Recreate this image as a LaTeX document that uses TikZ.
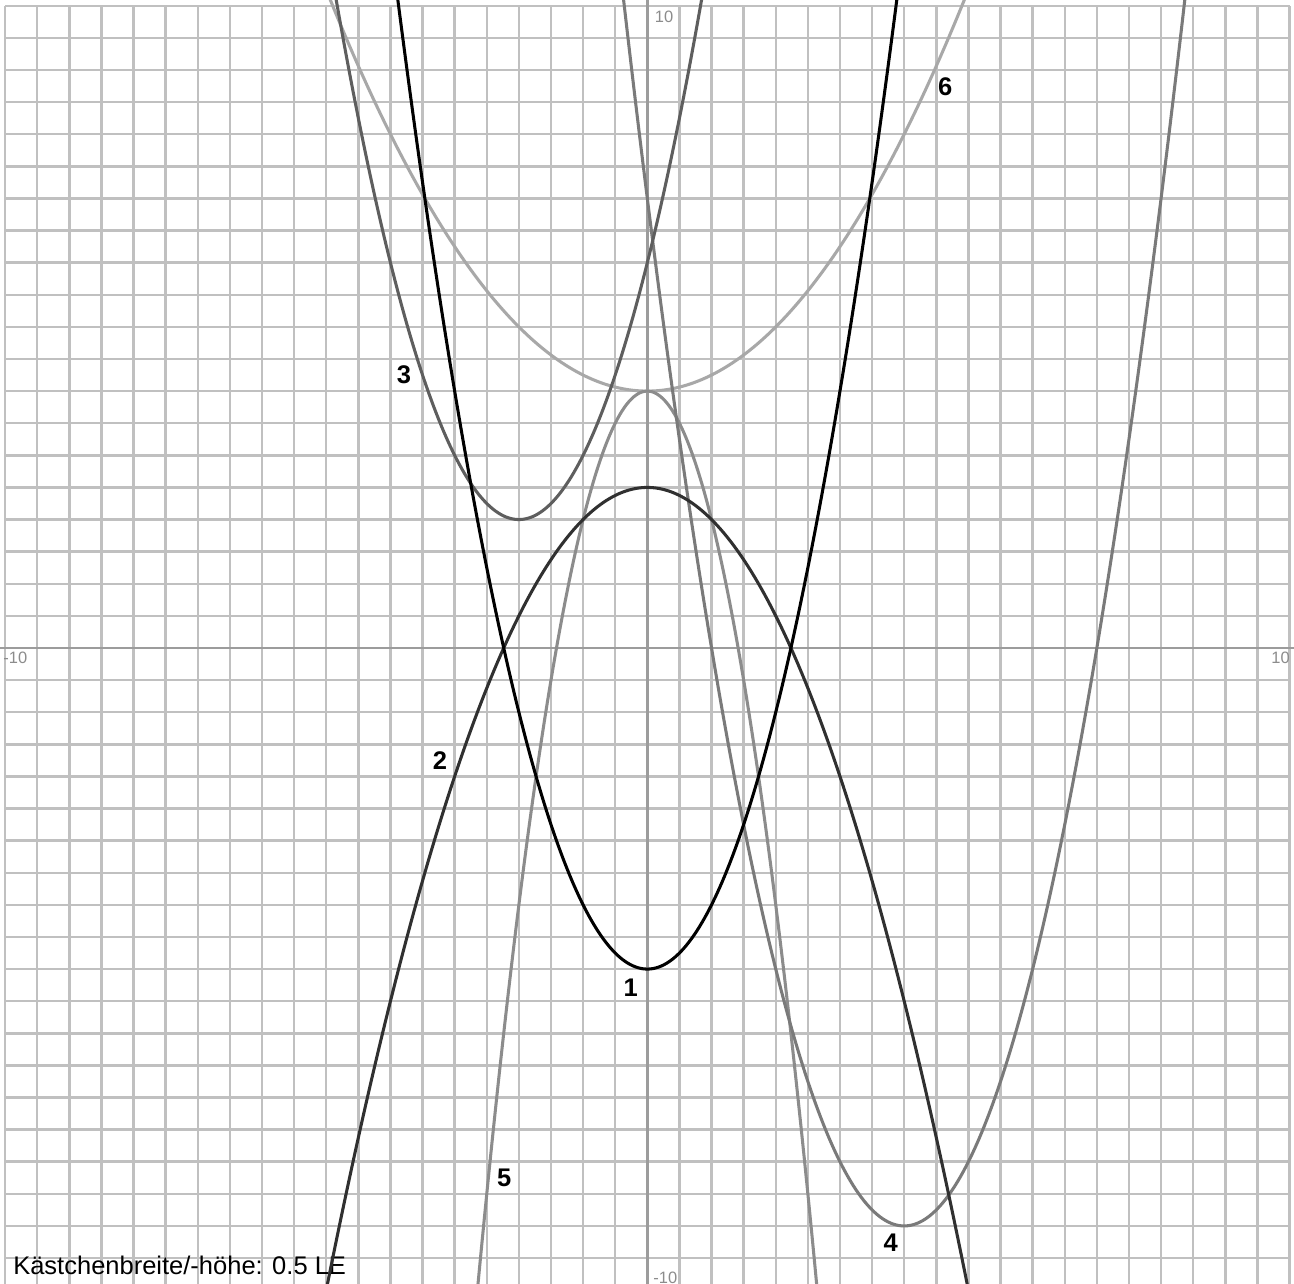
\documentclass[tikz,border=0pt]{standalone}
\usepackage{fontspec}
\setmainfont{Liberation Sans}
\definecolor{gitter}{HTML}{C0C0C0}
\definecolor{achse}{HTML}{9C9C9C}
\definecolor{kzwei}{HTML}{303030}
\definecolor{kdrei}{HTML}{5E5E5E}
\definecolor{kvier}{HTML}{7A7A7A}
\definecolor{kfuenf}{HTML}{8C8C8C}
\definecolor{ksechs}{HTML}{A8A8A8}
\tikzset{
  kurve/.style={line width=1.35pt, smooth, samples=200},
  nummer/.style={font=\bfseries\fontsize{11.3}{13}\selectfont, inner sep=0pt},
  skala/.style={font=\fontsize{7.3}{8}\selectfont, text=kfuenf, inner sep=0pt}
}
\begin{document}
\begin{tikzpicture}
  \useasboundingbox (-10.08,-9.90) rectangle (10.07,10.09);
  \fill[white] (-10.08,-9.90) rectangle (10.07,10.09);
  \clip (-10.08,-9.90) rectangle (10.07,10.09);
  \draw[gitter, line width=1.1pt] (-10,-10.5) grid[step=0.5] (10,10);
  \draw[achse, line width=1.1pt] (-10.08,0) -- (10.07,0);
  \draw[achse, line width=1.1pt] (0,-9.90) -- (0,10.09);
  \node[skala] (yoben) at (0.26,9.83) {10};
  \node[skala] (xlinks) at (-9.84,-0.16) {-10};
  \node[skala] (xrechts) at (9.86,-0.16) {10};
  \node[skala] (yunten) at (0.28,-9.81) {-10};
  \node[anchor=base west, inner sep=0pt, font=\fontsize{11.3}{13}\selectfont] (info) at (-9.88,-9.75) {Kästchenbreite/-höhe: 0.5 LE};
  \draw[kurve, ksechs] plot[domain=-5.2:5.2] (\x,{0.25*\x*\x+4});
  \draw[kurve, kfuenf] plot[domain=-2.75:2.75] (\x,{-2*\x*\x+4});
  \draw[kurve, kvier] plot[domain=-0.5:8.5] (\x,{(\x-4)*(\x-4)-9});
  \draw[kurve, kdrei] plot[domain=-4.95:0.95] (\x,{(\x+2)*(\x+2)+2});
  \draw[kurve, kzwei] plot[domain=-5.1:5.1] (\x,{-0.5*\x*\x+2.5});
  \draw[kurve, black] plot[domain=-3.95:3.95] (\x,{\x*\x-5});
  \node[nummer] (n1) at (-0.26,-5.29) {1};
  \node[nummer] (n2) at (-3.23,-1.75) {2};
  \node[nummer] (n3) at (-3.79,4.25) {3};
  \node[nummer] (n4) at (3.79,-9.26) {4};
  \node[nummer] (n5) at (-2.23,-8.25) {5};
  \node[nummer] (n6) at (4.64,8.74) {6};
\end{tikzpicture}
\end{document}
